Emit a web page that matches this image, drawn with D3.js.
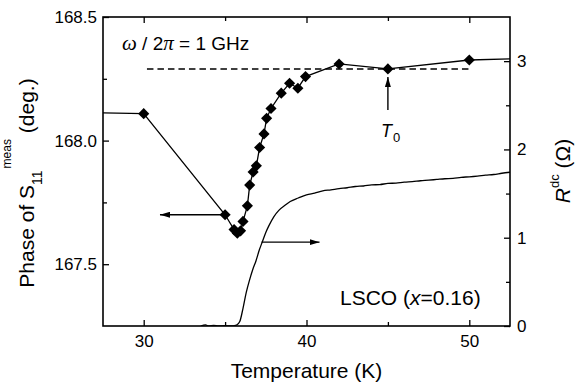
<!DOCTYPE html>
<html>
<head>
<meta charset="utf-8">
<script src="https://cdn.jsdelivr.net/npm/d3@7"></script>
<style>
  html, body { margin: 0; padding: 0; background: #fff; }
  svg { display: block; font-family: "Liberation Sans", Arial, Helvetica, sans-serif; }
</style>
</head>
<body>
<svg id="chart" width="582" height="386"></svg>
<script>
// Microwave phase of S11 (left axis, diamonds) and dc resistance (right axis)
// versus temperature for LSCO (x = 0.16).

// Phase of S11 measured at 1 GHz (deg.)
const phaseT = [25, 30, 35, 35.55, 35.75, 35.95, 36.1, 36.37, 36.51, 36.72, 36.92, 37.12,
                37.39, 37.55, 37.82, 38.45, 38.96, 39.47, 39.94, 42, 45, 50, 55];
const phaseDeg = [168.115, 168.109, 167.70, 167.64, 167.625, 167.635, 167.673, 167.736, 167.82,
                  167.873, 167.898, 167.972, 168.027, 168.09, 168.13, 168.192, 168.232,
                  168.212, 168.259, 168.31, 168.29, 168.326, 168.335];

// dc resistance (Ohm)
const resT = [33.5, 33.8, 34.0, 34.3, 34.6, 35.0, 35.3, 35.7, 35.9, 36.1, 36.3, 36.5, 36.7,
              36.9, 37.1, 37.3, 37.5, 37.7, 38.0, 38.3, 38.7, 39.0, 39.5, 40.0, 40.5, 41.0,
              41.5, 42.0, 42.5, 43.0, 43.5, 44.0, 44.5, 45.0, 45.5, 46.0, 46.5, 47.0, 47.5,
              48.0, 48.5, 49.0, 49.5, 50.0, 50.5, 51.0, 51.5, 52.0, 52.5];
const resOhm = [0.0, 0.012, 0.0, 0.006, 0.0, 0.004, 0.0, 0.01, 0.05, 0.2, 0.38, 0.52, 0.64,
                0.74, 0.86, 0.96, 1.06, 1.14, 1.24, 1.31, 1.37, 1.41, 1.45, 1.485, 1.505,
                1.53, 1.542, 1.556, 1.566, 1.58, 1.586, 1.598, 1.602, 1.615, 1.619, 1.63,
                1.636, 1.645, 1.652, 1.66, 1.668, 1.672, 1.684, 1.69, 1.698, 1.708, 1.716,
                1.73, 1.742];

// Axis ticks
const xMajor = [30, 40, 50];
const xMinor = [35, 45];
const yLeftMajor = [167.5, 168.0, 168.5];
const yLeftMinor = [167.75, 168.25];
const yRightMajor = [0, 1, 2, 3];
const yRightMinor = [0.5, 1.5, 2.5];

// Reference phase level (dashed) and arrows
const refLevel = { t0: 30.2, t1: 50, deg: 168.29 };
const arrowLeft = { from: [35, 167.70], to: [31.0, 167.70] };      // points to phase axis
const arrowRight = { from: [37.24, 0.95], to: [40.8, 0.95] };      // points to resistance axis
const arrowT0 = { from: [45, 168.124], to: [45, 168.257] };        // marks T0

const plot = { left: 103, right: 510, top: 17, bottom: 326 };

const svg = d3.select("#chart");

const x = d3.scaleLinear().domain([27.5, 52.5]).range([plot.left, plot.right]);
const yL = d3.scaleLinear().domain([167.25, 168.5]).range([plot.bottom, plot.top]);
const yR = d3.scaleLinear().domain([0, 3.5]).range([plot.bottom, plot.top]);

const defs = svg.append("defs");
defs.append("clipPath").attr("id", "plotClip")
  .append("rect")
  .attr("x", plot.left).attr("y", plot.top)
  .attr("width", plot.right - plot.left).attr("height", plot.bottom - plot.top);

defs.append("marker")
  .attr("id", "head")
  .attr("viewBox", "0 0 10 6")
  .attr("refX", 10).attr("refY", 3)
  .attr("markerWidth", 10).attr("markerHeight", 6)
  .attr("markerUnits", "userSpaceOnUse")
  .attr("orient", "auto")
  .append("path").attr("d", "M0,0 L10,3 L0,6 Z").attr("fill", "#000");

// ---- axes (ticks point inward) ----
function styleAxis(g) {
  g.select(".domain").remove();
  g.selectAll(".tick line").attr("stroke", "#000").attr("stroke-width", 1.3);
  g.selectAll("text").attr("fill", "#000").attr("font-size", 17);
}

const axB = svg.append("g").attr("transform", `translate(0,${plot.bottom})`)
  .call(d3.axisBottom(x).tickValues(xMajor).tickSize(-6).tickPadding(9).tickFormat(d3.format("d")));
styleAxis(axB);
const axBm = svg.append("g").attr("transform", `translate(0,${plot.bottom})`)
  .call(d3.axisBottom(x).tickValues(xMinor).tickSize(-4).tickFormat(""));
styleAxis(axBm);

const axT = svg.append("g").attr("transform", `translate(0,${plot.top})`)
  .call(d3.axisTop(x).tickValues(xMajor).tickSize(-6).tickFormat(""));
styleAxis(axT);
const axTm = svg.append("g").attr("transform", `translate(0,${plot.top})`)
  .call(d3.axisTop(x).tickValues(xMinor).tickSize(-4).tickFormat(""));
styleAxis(axTm);

const axL = svg.append("g").attr("transform", `translate(${plot.left},0)`)
  .call(d3.axisLeft(yL).tickValues(yLeftMajor).tickSize(-6).tickPadding(6).tickFormat(d3.format(".1f")));
styleAxis(axL);
const axLm = svg.append("g").attr("transform", `translate(${plot.left},0)`)
  .call(d3.axisLeft(yL).tickValues(yLeftMinor).tickSize(-4).tickFormat(""));
styleAxis(axLm);

const axR = svg.append("g").attr("transform", `translate(${plot.right},0)`)
  .call(d3.axisRight(yR).tickValues(yRightMajor).tickSize(-6).tickPadding(7).tickFormat(d3.format("d")));
styleAxis(axR);
const axRm = svg.append("g").attr("transform", `translate(${plot.right},0)`)
  .call(d3.axisRight(yR).tickValues(yRightMinor).tickSize(-4).tickFormat(""));
styleAxis(axRm);

// frame
svg.append("rect")
  .attr("x", plot.left).attr("y", plot.top)
  .attr("width", plot.right - plot.left).attr("height", plot.bottom - plot.top)
  .attr("fill", "none").attr("stroke", "#000").attr("stroke-width", 1.6);

const layer = svg.append("g").attr("clip-path", "url(#plotClip)");

// dashed reference level
layer.append("line")
  .attr("x1", x(refLevel.t0)).attr("x2", x(refLevel.t1))
  .attr("y1", yL(refLevel.deg)).attr("y2", yL(refLevel.deg))
  .attr("stroke", "#000").attr("stroke-width", 1.5)
  .attr("stroke-dasharray", "6.5,4");

// dc resistance curve
const res = resT.map((t, i) => [t, resOhm[i]]);
layer.append("path")
  .datum(res)
  .attr("fill", "none").attr("stroke", "#000").attr("stroke-width", 1.3)
  .attr("d", d3.line().x(d => x(d[0])).y(d => yR(d[1])).curve(d3.curveMonotoneX));

// phase line + diamonds
const phase = phaseT.map((t, i) => [t, phaseDeg[i]]);
layer.append("path")
  .datum(phase)
  .attr("fill", "none").attr("stroke", "#000").attr("stroke-width", 1.3)
  .attr("d", d3.line().x(d => x(d[0])).y(d => yL(d[1])));

const diamond = d3.symbol().type(d3.symbolSquare).size(62);
layer.selectAll("path.pt")
  .data(phase.filter(d => d[0] >= 27.5 && d[0] <= 52.5))
  .join("path").attr("class", "pt")
  .attr("d", diamond)
  .attr("transform", d => `translate(${x(d[0])},${yL(d[1])}) rotate(45)`)
  .attr("fill", "#000");

// arrows
function arrow(a, ys) {
  svg.append("line")
    .attr("x1", x(a.from[0])).attr("y1", ys(a.from[1]))
    .attr("x2", x(a.to[0])).attr("y2", ys(a.to[1]))
    .attr("stroke", "#000").attr("stroke-width", 1.4)
    .attr("marker-end", "url(#head)");
}
arrow(arrowLeft, yL);
arrow(arrowRight, yR);
arrow(arrowT0, yL);

// ---- text ----
const serif = '"Liberation Serif", "Times New Roman", serif';

const freq = svg.append("text").attr("x", 122).attr("y", 50).attr("font-size", 19).attr("fill", "#000");
freq.append("tspan").attr("font-family", serif).attr("font-style", "italic").attr("font-size", 21).text("ω");
freq.append("tspan").text(" / 2");
freq.append("tspan").attr("font-family", serif).attr("font-style", "italic").attr("font-size", 21).text("π");
freq.append("tspan").text(" = 1 GHz");

const t0 = svg.append("text").attr("x", 381).attr("y", 137).attr("font-size", 18).attr("fill", "#000");
t0.append("tspan").attr("font-style", "italic").text("T");
t0.append("tspan").attr("font-size", 13).attr("dy", 5).attr("dx", 1).text("0");

const lsco = svg.append("text").attr("x", 340).attr("y", 305).attr("font-size", 21).attr("fill", "#000");
lsco.append("tspan").text("LSCO (");
lsco.append("tspan").attr("font-style", "italic").text("x");
lsco.append("tspan").text("=0.16)");

svg.append("text")
  .attr("x", (plot.left + plot.right) / 2).attr("y", 378)
  .attr("text-anchor", "middle").attr("font-size", 21).attr("fill", "#000")
  .text("Temperature (K)");

const yTitle = svg.append("text")
  .attr("transform", "translate(34,183) rotate(-90)")
  .attr("text-anchor", "middle").attr("font-size", 21).attr("fill", "#000");
yTitle.append("tspan").text("Phase of S");
yTitle.append("tspan").attr("font-size", 14).attr("dy", 8).text("11");
yTitle.append("tspan").attr("font-size", 12).attr("dy", -31).attr("dx", 2).text("meas");
yTitle.append("tspan").attr("dy", 23).text(" (deg.)");

const rTitle = svg.append("text")
  .attr("transform", "translate(570,171) rotate(-90)")
  .attr("text-anchor", "middle").attr("font-size", 21).attr("fill", "#000");
rTitle.append("tspan").attr("font-style", "italic").text("R");
rTitle.append("tspan").attr("font-size", 13).attr("dy", -11).text("dc");
rTitle.append("tspan").attr("dy", 11).text(" (Ω)");
</script>
</body>
</html>
